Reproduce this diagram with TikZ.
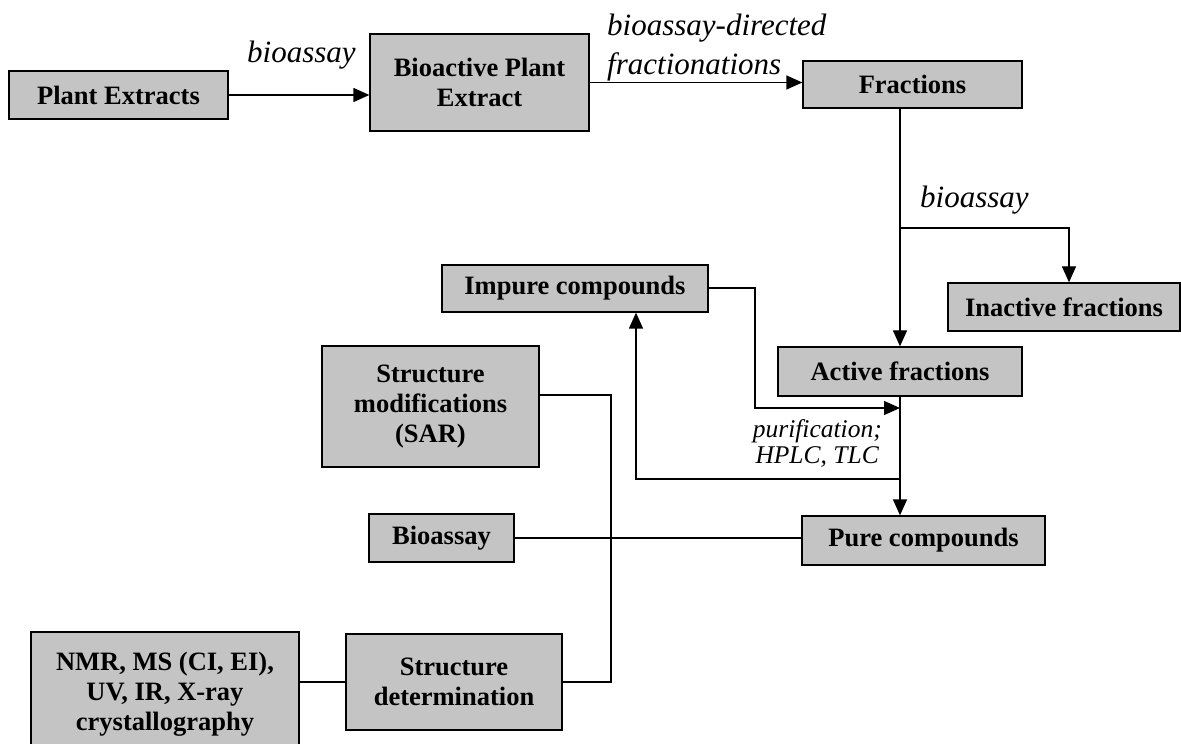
\documentclass[tikz,border=0pt]{standalone}
\usepackage{fontspec}
\setmainfont{Liberation Serif}
\usetikzlibrary{arrows.meta}
\definecolor{boxgray}{RGB}{196,196,196}
\tikzset{
 box/.style={draw=black, line width=1.3pt, fill=boxgray, inner sep=0pt, align=center, font=\fontsize{26.5}{30}\selectfont\bfseries},
 conn/.style={line width=1.3pt},
 arr/.style={conn, -{Triangle[length=16pt,width=14pt]}},
 lab/.style={inner sep=0pt, font=\fontsize{31}{39}\selectfont\itshape},
 slab/.style={inner sep=0pt, font=\fontsize{25.5}{26}\selectfont\itshape},
}
\begin{document}
\begin{tikzpicture}[x=1pt,y=-1pt]
\useasboundingbox (0,0) rectangle (1181,751);
\fill[white] (0,0) rectangle (1181,751);
% boxes
\node[box, minimum width=219pt, minimum height=48pt] (PE) at (118.5,95) {Plant Extracts};
\node[box, minimum width=219pt, minimum height=97pt] (BPE) at (479.5,82.5) {Bioactive Plant\\Extract};
\node[box, minimum width=219pt, minimum height=47pt] (FR) at (912.5,84.5) {Fractions};
\node[box, minimum width=232pt, minimum height=48pt] (IN) at (1064,307) {Inactive fractions};
\node[box, minimum width=244pt, minimum height=49pt] (AF) at (900,371.5) {Active fractions};
\node[box, minimum width=266pt, minimum height=47pt] (IC) at (575,288.5) {Impure compounds};
\node[box, minimum width=217pt, minimum height=121pt] (SM) at (430.5,406.5) {Structure\\modifications\\(SAR)};
\node[box, minimum width=145pt, minimum height=48pt] (BA) at (441.5,538) {Bioassay};
\node[box, minimum width=243pt, minimum height=49pt] (PC) at (923.5,540.5) {Pure compounds};
\node[box, minimum width=216pt, minimum height=96pt] (SD) at (454,682) {Structure\\determination};
\begin{scope}
\clip (0,600) rectangle (400,743);
\node[box, minimum width=268pt, minimum height=124pt] (NMR) at (165,694) {NMR, MS (CI, EI),\\UV, IR, X-ray\\crystallography};
\end{scope}
% labels
\node[lab, anchor=base west] (l1) at (247,63) {bioassay};
\node[lab, anchor=base west] (l2) at (607,36) {bioassay-directed};
\node[lab, anchor=base west] (l3) at (607,75) {fractionations};
\node[lab, anchor=base west] (l4) at (920,208) {bioassay};
\node[slab, anchor=base east] (l5) at (882,437) {purification;};
\node[slab, anchor=base east] (l6) at (879,463) {HPLC, TLC};
% connectors
\coordinate (brL) at (900,228);
\coordinate (brR) at (1069,228);
\coordinate (icR) at (755,288);
\coordinate (icD) at (755,408);
\coordinate (jn) at (900,408);
\coordinate (pL) at (900,479);
\coordinate (pU) at (636,479);
\coordinate (smR) at (611,395);
\coordinate (smD) at (611,682);
\draw[arr] (PE.east) -- (PE.east -| BPE.west);
\draw[arr] (BPE.east) -- (BPE.east -| FR.west);
\draw[arr] (AF.north |- FR.south) -- (AF.north);
\draw[arr] (brL) -- (brR) -- (brR |- IN.north);
\draw[arr] (IC.east |- icR) -- (icR) -- (icD) -- (jn);
\draw[arr] (AF.south) -- (AF.south |- PC.north);
\draw[arr] (pL) -- (pU) -- (pU |- IC.south);
\draw[conn] (SM.east |- smR) -- (smR) -- (smD) -- (SD.east);
\draw[conn] (BA.east) -- (BA.east -| PC.west);
\draw[conn] (SD.west) -- (SD.west -| NMR.east);
\end{tikzpicture}
\end{document}
